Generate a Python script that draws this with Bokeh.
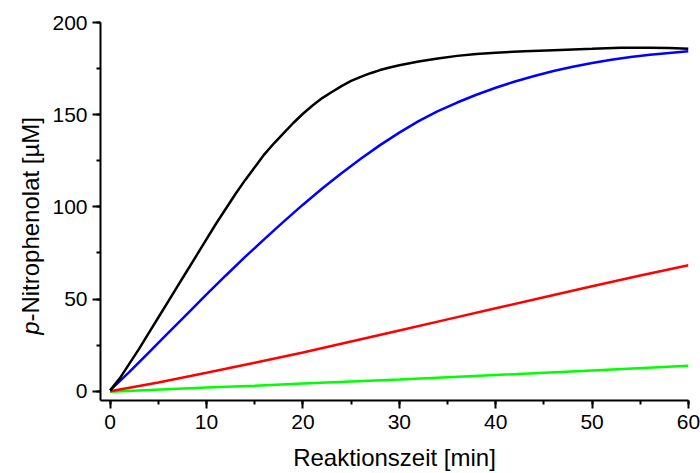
import math
from bokeh.plotting import figure
from bokeh.layouts import row
from bokeh.models import Range1d, SingleIntervalTicker
from bokeh.core.properties import value
from bokeh.embed import file_html
from bokeh.resources import INLINE

# Reaction time [min] and p-Nitrophenolat [µM] for four curves
black_x = [0, 1, 2, 3, 4, 5, 6, 7, 8, 9, 10, 11, 12, 13, 14, 15, 16, 17, 18, 19, 20, 21, 22, 23, 24, 25, 26, 27, 28, 29, 30,
           32, 34, 36, 38, 40, 43, 46, 50, 53, 56, 58, 60]
black_y = [0.5, 7, 15, 23, 31.5, 40, 48.5, 57, 65.5, 74, 82.5, 91, 99, 107, 114.5, 121.5, 128.5, 134.5, 140, 145.5, 150.5,
           155, 159, 162.3, 165.5, 168.3, 170.5, 172.5, 174.2, 175.6, 176.8,
           178.8, 180.5, 181.9, 182.9, 183.6, 184.4, 185, 185.7, 186.3, 186.3, 186.2, 185.8]

blue_x = [0, 2, 4, 6, 8, 10, 12, 14, 16, 18, 20, 22, 24, 26, 28, 30, 32, 34, 36, 38, 40, 42, 44, 46, 48, 50, 52, 54, 56, 58, 60]
blue_y = [0.5, 10.5, 21, 31.5, 42, 52.5, 62.8, 72.9, 82.5, 92, 101.2, 110, 118.3, 126.1, 133.5, 140.3, 146.5, 151.9, 156.6,
          160.8, 164.6, 168, 171, 173.7, 176, 178, 179.8, 181.3, 182.5, 183.5, 184.4]

red_x = [0, 5, 10, 15, 20, 25, 30, 35, 40, 45, 50, 55, 60]
red_y = [0, 4.8, 10, 15.5, 21, 27, 33, 39, 45, 51, 57, 62.8, 68.3]

green_x = [0, 10, 15, 20, 30, 40, 50, 60]
green_y = [-0.3, 2, 3, 4.2, 6.4, 8.8, 11.3, 13.8]

x_label = "Reaktionszeit [min]"
y_label_italic = "p"
y_label_rest = "-Nitrophenolat [µM]"

FONT = "Liberation Sans"
W, H = 700, 473
LEFT_W = 49
TOP, BOTTOM = 22, 72

p = figure(width=W - LEFT_W, height=H, output_backend="svg", toolbar_location=None,
           x_range=Range1d(-1, 60), y_range=Range1d(-5, 200),
           min_border_left=99 - LEFT_W, min_border_right=12, min_border_top=TOP, min_border_bottom=BOTTOM)
p.outline_line_color = None
p.grid.visible = False
p.background_fill_color = "white"
p.border_fill_color = "white"

for xs, ys, c in [(green_x, green_y, "#00FF00"), (red_x, red_y, "#FF0000"),
                  (blue_x, blue_y, "#0000FF"), (black_x, black_y, "#000000")]:
    p.line(xs, ys, line_color=c, line_width=2.5)

p.xaxis.ticker = SingleIntervalTicker(interval=10, num_minor_ticks=2)
p.yaxis.ticker = SingleIntervalTicker(interval=50, num_minor_ticks=2)

for ax in (p.xaxis[0], p.yaxis[0]):
    ax.axis_line_width = 2
    ax.axis_line_color = "black"
    ax.major_tick_line_width = 2
    ax.minor_tick_line_width = 2
    ax.major_tick_line_color = "black"
    ax.minor_tick_line_color = "black"
    ax.major_tick_out = 8
    ax.major_tick_in = 0
    ax.minor_tick_out = 4
    ax.minor_tick_in = 0
    ax.major_label_text_font = FONT
    ax.major_label_text_font_size = "21px"
    ax.major_label_text_color = "black"

p.xaxis.major_label_standoff = 6
p.yaxis.major_label_standoff = 5
p.xaxis.axis_label = x_label
p.xaxis.axis_label_text_font = FONT
p.xaxis.axis_label_text_font_size = "24px"
p.xaxis.axis_label_text_font_style = "normal"
p.xaxis.axis_label_text_color = "black"
p.xaxis.axis_label_standoff = 12

# narrow panel on the left carrying the y axis label (italic "p");
# its frame is aligned with the main frame, so its y range is set in
# pixels measured upward from the bottom of the canvas.
lab = figure(width=LEFT_W, height=H, output_backend="svg", toolbar_location=None,
             x_range=Range1d(0, LEFT_W), y_range=Range1d(BOTTOM, H - TOP),
             min_border_left=0, min_border_right=0, min_border_top=TOP, min_border_bottom=BOTTOM,
             x_axis_type=None, y_axis_type=None)
lab.outline_line_color = None
lab.grid.visible = False
lab.background_fill_color = "white"
lab.border_fill_color = "white"

fs = 24
w_p = 0.556 * fs                  # advance of italic "p"
w_rest = 8.523 * fs               # advance of "-Nitrophenolat [µM]"
baseline_x = 38.5
mid_x = baseline_x - 8.3 * fs / 24   # em-box middle, left of the baseline (text rotated)
center_canvas_y = 226
start_y = (H - center_canvas_y) - (w_p + w_rest) / 2   # label start, measured upward
lab.text(x=[mid_x], y=[start_y + w_p / 2], text=[y_label_italic], angle=math.pi / 2,
         text_font=value(FONT), text_font_style="italic", text_font_size=f"{fs}px",
         text_align="center", text_baseline="middle", text_color="black")
lab.text(x=[mid_x], y=[start_y + w_p + w_rest / 2], text=[y_label_rest], angle=math.pi / 2,
         text_font=value(FONT), text_font_style="normal", text_font_size=f"{fs}px",
         text_align="center", text_baseline="middle", text_color="black")

layout = row(lab, p, spacing=0)
open("out.html", "w").write(file_html(layout, INLINE))
